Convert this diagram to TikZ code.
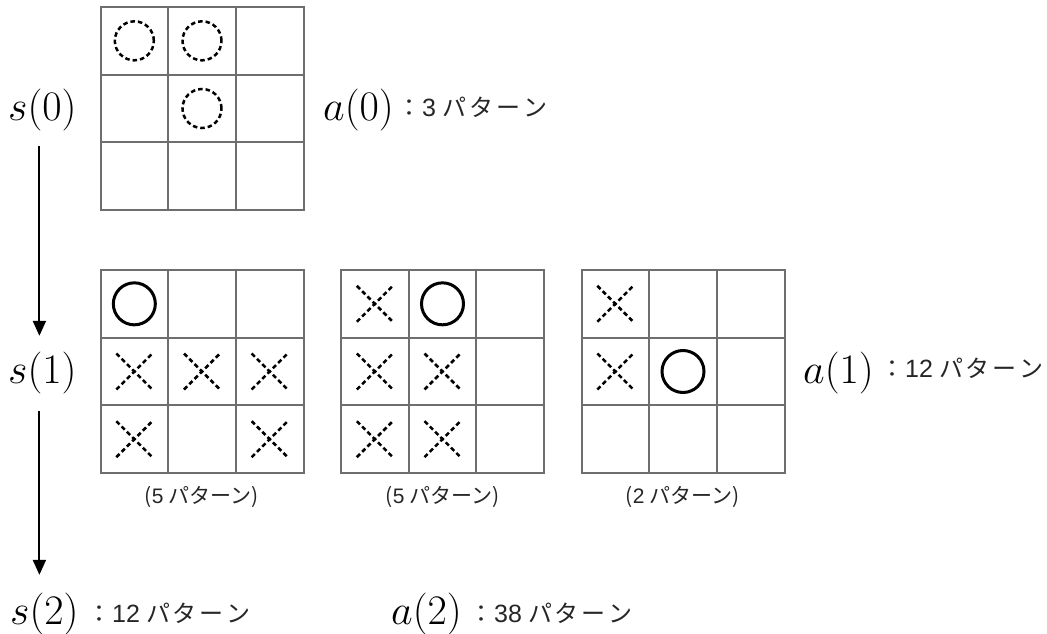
\RequirePackage{fix-cm}
\documentclass[tikz,border=0pt]{standalone}
\usepackage{fontspec}
\newfontfamily\jp{Noto Sans CJK JP}
\newfontfamily\dg{Liberation Sans}
\usetikzlibrary{arrows.meta}
\definecolor{gridgray}{HTML}{6E6E6E}
\newcommand\pat[1]{パ\kern#1 タ\kern#1 ー\kern#1 ン}
\newcommand\cnt[1]{：\kern1pt{\dg\fontsize{25}{25}\selectfont #1}\kern6pt\pat{3pt}}
\newcommand\cellsz{67.67}
\newcommand\TGrid[2]{%
  \foreach \i in {0,1,2,3}{%
    \draw[gridline] (#1+\i*\cellsz,#2) -- ++(0,203);
    \draw[gridline] (#1,#2+\i*\cellsz) -- ++(203,0);}}
\newcommand\Om[4]{\draw[omark] (#1+33.83+#4*\cellsz,#2+33.83+#3*\cellsz) circle[radius=21pt];}
\newcommand\Dm[4]{\draw[domark] (#1+33.83+#4*\cellsz,#2+33.83+#3*\cellsz) circle[radius=19.5pt];}
\newcommand\Xm[4]{\draw[xmark,shift={(#1+33.83+#4*\cellsz,#2+33.83+#3*\cellsz)}] (-18,-18) -- (18,18) (-18,18) -- (18,-18);}
\begin{document}
\begin{tikzpicture}[x=1pt,y=-1pt,
  gridline/.style={draw=gridgray,line width=2pt,line cap=rect},
  omark/.style={draw=black,line width=3pt},
  domark/.style={draw=black,line width=2.5pt,dash pattern=on 4.5pt off 3pt},
  xmark/.style={draw=black,line width=2.5pt,dash pattern=on 4.5pt off 3pt},
  mathlbl/.style={inner sep=0pt,anchor=base west,font=\fontsize{42}{42}\selectfont},
  jplbl/.style={inner sep=0pt,anchor=base west,text=black!85,font=\jp\fontsize{24}{24}\selectfont},
  caption/.style={inner sep=0pt,anchor=base,text=black!85,font=\jp\fontsize{21}{21}\selectfont},
  arr/.style={line width=2pt,-{Triangle[length=15pt,width=13pt]}}]
\useasboundingbox (0,0) rectangle (1047,634);
% grids
\TGrid{100.5}{7}
\TGrid{100.5}{270}
\TGrid{341}{270}
\TGrid{581.5}{270}
% top grid marks
\Dm{100.5}{7}{0}{0}
\Dm{100.5}{7}{0}{1}
\Dm{100.5}{7}{1}{1}
% grid 1
\Om{100.5}{270}{0}{0}
\Xm{100.5}{270}{1}{0}
\Xm{100.5}{270}{1}{1}
\Xm{100.5}{270}{1}{2}
\Xm{100.5}{270}{2}{0}
\Xm{100.5}{270}{2}{2}
% grid 2
\Xm{341}{270}{0}{0}
\Om{341}{270}{0}{1}
\Xm{341}{270}{1}{0}
\Xm{341}{270}{1}{1}
\Xm{341}{270}{2}{0}
\Xm{341}{270}{2}{1}
% grid 3
\Xm{581.5}{270}{0}{0}
\Xm{581.5}{270}{1}{0}
\Om{581.5}{270}{1}{1}
% captions
\node[caption] (c1) at (201.5,503) {({\dg 5} パターン)};
\node[caption] (c2) at (442.5,503) {({\dg 5} パターン)};
\node[caption] (c3) at (682.5,503) {({\dg 2} パターン)};
% labels
\node[mathlbl] (s0) at (8,121) {$s(0)$};
\node[mathlbl] (a0) at (323,121) {$a(0)$};
\node[jplbl] (a0t) at (397,116) {\cnt{3}};
\node[mathlbl] (s1) at (8,383) {$s(1)$};
\node[mathlbl] (a1) at (803,383) {$a(1)$};
\node[jplbl] (a1t) at (880,377) {\cnt{12}};
\node[mathlbl] (s2) at (10,624) {$s(2)$};
\node[jplbl] (s2t) at (87,622) {\cnt{12}};
\node[mathlbl] (a2) at (391,624) {$a(2)$};
\node[jplbl] (a2t) at (469,622) {\cnt{38}};
% arrows
\draw[arr] ([shift={(-3pt,-14.5pt)}]s0.south) -- ([shift={(-3pt,15.5pt)}]s1.north);
\draw[arr] ([shift={(-3pt,-17.5pt)}]s1.south) -- ([shift={(-5pt,17.5pt)}]s2.north);
\end{tikzpicture}
\end{document}
